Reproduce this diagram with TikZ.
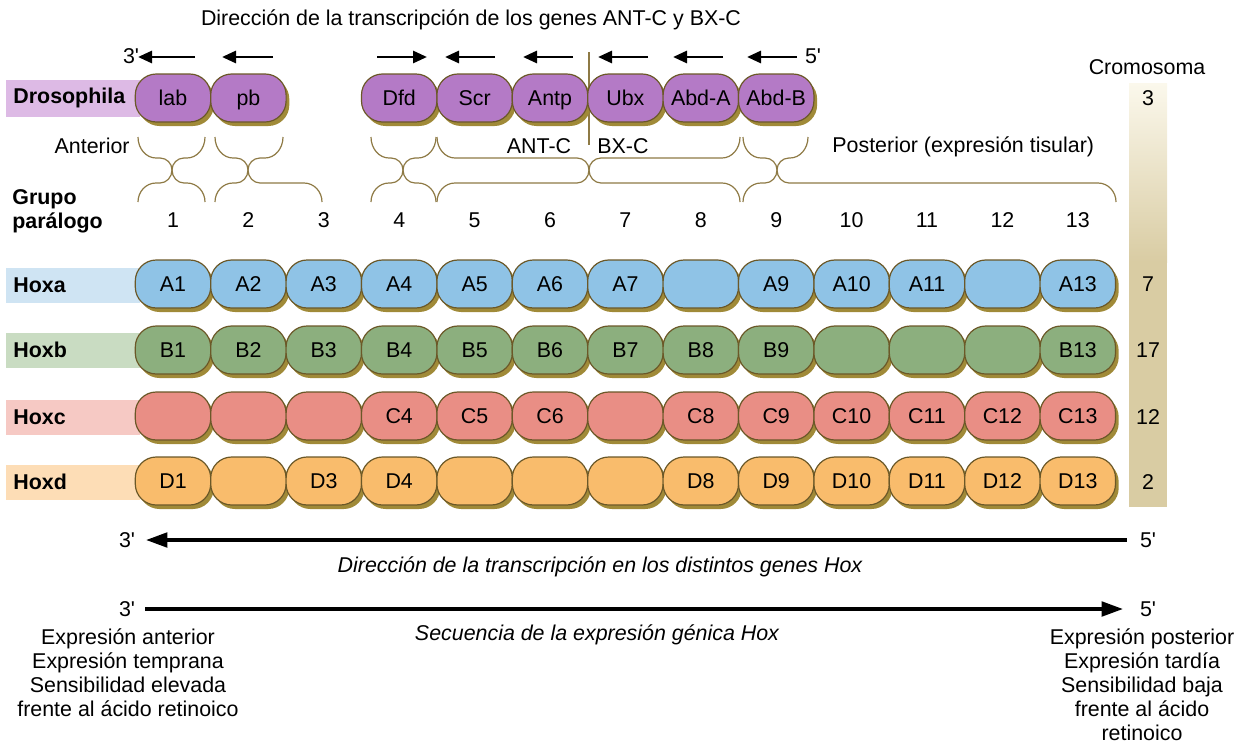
\documentclass[tikz,border=0pt]{standalone}
\usepackage{fontspec}
\setmainfont{Liberation Sans}
\usetikzlibrary{arrows.meta,positioning,shadows}

\definecolor{edgecol}{HTML}{6B5828}
\definecolor{shadowcol}{HTML}{A08A38}
\definecolor{bracecol}{HTML}{8E7A45}
\definecolor{drosfill}{HTML}{B47AC6}
\definecolor{drosband}{HTML}{DDBAE5}
\definecolor{hoxafill}{HTML}{8FC3E6}
\definecolor{hoxaband}{HTML}{CFE4F3}
\definecolor{hoxbfill}{HTML}{8CAF7E}
\definecolor{hoxbband}{HTML}{C9DCC2}
\definecolor{hoxcfill}{HTML}{E98E85}
\definecolor{hoxcband}{HTML}{F6C9C4}
\definecolor{hoxdfill}{HTML}{F9BC6C}
\definecolor{hoxdband}{HTML}{FDDDB6}
\definecolor{barlight}{HTML}{FBF8EC}
\definecolor{bartan}{HTML}{D9CCA3}

\newcommand{\colx}[1]{173+(#1-1)*75.4}
% brace: left end, cusp, right end, y of ends, y of flat part, y of cusp
\newcommand{\brc}[6]{%
  \draw[brace] (#1,#4) .. controls (#1,{#4+0.552*(#5-#4)}) and ({#1+8},#5) .. ({#1+18},#5)
    -- ({#2-12},#5) .. controls ({#2-5.4},#5) and (#2,{#6-0.552*(#6-#5)}) .. (#2,#6)
    .. controls (#2,{#6-0.552*(#6-#5)}) and ({#2+5.4},#5) .. ({#2+12},#5)
    -- ({#3-18},#5) .. controls ({#3-8},#5) and (#3,{#4+0.552*(#5-#4)}) .. (#3,#4);}

\begin{document}
\begin{tikzpicture}[x=0.5pt, y=-0.5pt, inner sep=0pt,
  font=\fontsize{10.7}{12}\selectfont,
  gene/.style={draw=edgecol, line width=0.6pt, rounded corners=10.5pt,
    minimum width=37.7pt, minimum height=24pt, text height=7.7pt, text depth=0pt,
    drop shadow={shadow xshift=1.6pt, shadow yshift=-2pt, fill=shadowcol, opacity=1}},
  band/.style={minimum width=67pt, minimum height=17.5pt, anchor=west},
  rowlbl/.style={font=\fontsize{10.7}{12}\selectfont\bfseries, anchor=west},
  brace/.style={draw=bracecol, line width=0.6pt},
  dirarr/.style={-{Triangle[length=7pt,width=6pt]}, line width=1.4pt},
  bigarr/.style={-{Triangle[length=11pt,width=7pt]}, line width=2.4pt}
]
\useasboundingbox (0,0) rectangle (1245,744);

% title and direction of the Drosophila genes
\node (title) at (471,20) {Dirección de la transcripción de los genes ANT-C y BX-C};
\node (top3) at (131,56) {3\textquotesingle};
\node (top5) at (813,56) {5\textquotesingle};
\foreach \a/\b in {195/138, 273/222, 377/427, 495/445, 573/523, 648/598, 723/673, 797/747}
  \draw[dirarr] (\a,57) -- (\b,57);
\draw[brace] (589,52) -- (589,145);

% row labels
\node[band, fill=drosband, minimum height=18.5pt] (drosband) at (6,98) {};
\node[rowlbl] (droslbl) at (13,98) {Drosophila};
\node[band, fill=hoxaband] (hoxaband) at (6,285) {};
\node[rowlbl] (hoxalbl) at (13,285) {Hoxa};
\node[band, fill=hoxbband] (hoxbband) at (6,350) {};
\node[rowlbl] (hoxblbl) at (13,350) {Hoxb};
\node[band, fill=hoxcband] (hoxcband) at (6,417) {};
\node[rowlbl] (hoxclbl) at (13,417) {Hoxc};
\node[band, fill=hoxdband] (hoxdband) at (6,482) {};
\node[rowlbl] (hoxdlbl) at (13,482) {Hoxd};

% Drosophila genes
\foreach \c/\g in {1/lab, 2/pb, 4/Dfd, 5/Scr, 6/Antp, 7/Ubx, 8/Abd-A, 9/Abd-B}
  \node[gene, fill=drosfill] (dros-\c) at ({\colx{\c}},98) {\g};

% braces
\node[anchor=east] (anterior) at (130,146) {Anterior};
\node (antc) at (539,146) {ANT-C};
\node (bxc) at (623,146) {BX-C};
\node[anchor=west] (posterior) at (832,147) {Posterior (expresión tisular)};
\foreach \l/\m/\r in {138/172/205, 215/248/283, 371/403/436, 437/589/740, 743/777/808}
  {\brc{\l}{\m}{\r}{137}{158}{170}}
\foreach \l/\m/\r in {138/172/205, 215/248/322, 371/403/436, 437/589/740, 743/777/1116}
  {\brc{\l}{\m}{\r}{202}{183}{170}}

% paralog groups
\node[rowlbl, align=left] (grupo) at (12,211) {Grupo\\parálogo};
\foreach \i in {1,...,13}
  \node (num-\i) at ({\colx{\i}},220) {\i};

% vertebrate Hox clusters
\foreach \g [count=\i] in {A1,A2,A3,A4,A5,A6,A7,{},A9,A10,A11,{},A13}
  \node[gene, fill=hoxafill] (hoxa-\i) at ({\colx{\i}},284) {\g};
\foreach \g [count=\i] in {B1,B2,B3,B4,B5,B6,B7,B8,B9,{},{},{},B13}
  \node[gene, fill=hoxbfill] (hoxb-\i) at ({\colx{\i}},350) {\g};
\foreach \g [count=\i] in {{},{},{},C4,C5,C6,{},C8,C9,C10,C11,C12,C13}
  \node[gene, fill=hoxcfill] (hoxc-\i) at ({\colx{\i}},416) {\g};
\foreach \g [count=\i] in {D1,{},D3,D4,{},{},{},D8,D9,D10,D11,D12,D13}
  \node[gene, fill=hoxdfill] (hoxd-\i) at ({\colx{\i}},481) {\g};

% chromosomes
\shade[top color=barlight, bottom color=bartan] (1129,83) rectangle (1167,262);
\fill[bartan] (1129,261) rectangle (1167,507);
\node (cromo) at (1147,67) {Cromosoma};
\foreach \y/\n in {98/3, 284/7, 350/17, 417/12, 482/2}
  \node (chr-\n) at (1148,\y) {\n};

% direction and sequence
\node (p3a) at (127,540) {3\textquotesingle};
\node (p5a) at (1148,540) {5\textquotesingle};
\draw[bigarr, shorten <=6.5pt, shorten >=5pt] (p5a) -- (p3a);
\node (dirhox) at (600,567) {\itshape Dirección de la transcripción en los distintos genes Hox};
\node (p3b) at (127,609) {3\textquotesingle};
\node (p5b) at (1148,609) {5\textquotesingle};
\draw[bigarr, shorten <=5pt, shorten >=8pt] (p3b) -- (p5b);
\node (seqhox) at (597,635) {\itshape Secuencia de la expresión génica Hox};
\node[align=center, anchor=north] (antexp) at (128,628)
  {Expresión anterior\\Expresión temprana\\Sensibilidad elevada\\frente al ácido retinoico};
\node[align=center, anchor=north] (postexp) at (1142,628)
  {Expresión posterior\\Expresión tardía\\Sensibilidad baja\\frente al ácido\\retinoico};
\end{tikzpicture}
\end{document}
